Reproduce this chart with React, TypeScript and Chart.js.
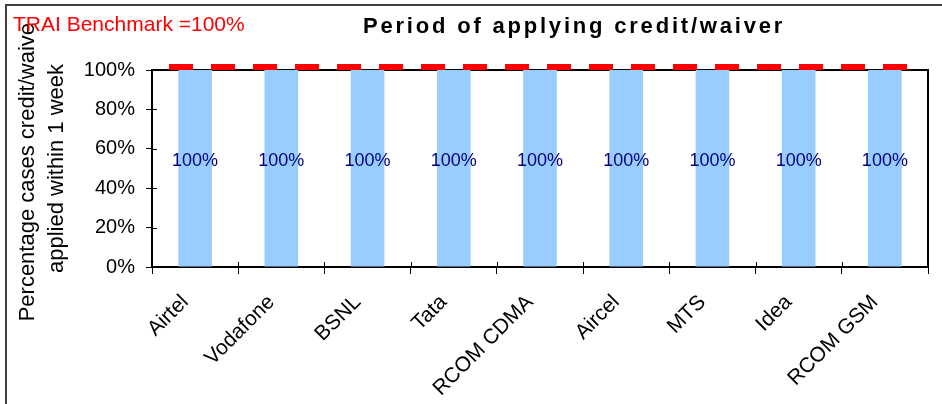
import React, { useEffect, useRef } from 'react';
import { Chart, registerables } from 'chart.js';

Chart.register(...registerables);

const categories = ['Airtel', 'Vodafone', 'BSNL', 'Tata', 'RCOM CDMA', 'Aircel', 'MTS', 'Idea', 'RCOM GSM'];
const percentValues = [100, 100, 100, 100, 100, 100, 100, 100, 100];
const benchmarkValues = [100, 100, 100, 100, 100, 100, 100, 100, 100];
const yTickValues = [0, 20, 40, 60, 80, 100];
const chartTitle = 'Period of applying credit/waiver';
const benchmarkCaption = 'TRAI Benchmark =100%';
const yAxisTitle = ['Percentage cases credit/waiver', 'applied within 1 week'];

const FONT = "'Liberation Sans', Arial, Helvetica, sans-serif";

const frameAndTicks = {
  id: 'frameAndTicks',
  beforeDatasetsDraw(chart: any) {
    const { ctx, chartArea: a, scales } = chart;
    ctx.save();
    ctx.strokeStyle = '#000';
    ctx.lineWidth = 2;
    ctx.beginPath();
    ctx.moveTo(a.left, a.top);
    ctx.lineTo(a.right, a.top);
    ctx.lineTo(a.right, a.bottom);
    ctx.stroke();
    ctx.lineWidth = 1;
    ctx.beginPath();
    const ys = scales.y;
    ys.ticks.forEach((_t: any, i: number) => {
      const py = Math.round(ys.getPixelForTick(i)) + 0.5;
      ctx.moveTo(a.left, py);
      ctx.lineTo(a.left + 5, py);
    });
    const n = categories.length;
    for (let i = 0; i <= n; i++) {
      const px = Math.round(a.left + (i * a.width) / n) + 0.5;
      ctx.moveTo(px, a.bottom);
      ctx.lineTo(px, a.bottom - 5);
    }
    ctx.stroke();
    ctx.restore();
  },
};

const benchClip = {
  id: 'benchClip',
  beforeDatasetDraw(chart: any, args: any) {
    if (args.index !== 1) return;
    const { ctx, chartArea: a } = chart;
    ctx.save();
    ctx.beginPath();
    ctx.rect(a.left, 0, a.width - 20, a.top);
    ctx.clip();
  },
  afterDatasetDraw(chart: any, args: any) {
    if (args.index !== 1) return;
    chart.ctx.restore();
  },
};

const barLabels = {
  id: 'barLabels',
  afterDatasetsDraw(chart: any) {
    const { ctx } = chart;
    const meta = chart.getDatasetMeta(0);
    ctx.save();
    ctx.font = `18px ${FONT}`;
    ctx.fillStyle = '#000080';
    ctx.textAlign = 'center';
    ctx.textBaseline = 'bottom';
    meta.data.forEach((bar: any, i: number) => {
      const { x, y, base } = bar.getProps(['x', 'y', 'base'], true);
      ctx.fillText(`${percentValues[i]}%`, x, (y + base) / 2 + 1.5);
    });
    ctx.restore();
  },
};

const captions = {
  id: 'captions',
  afterDraw(chart: any) {
    const { ctx } = chart;
    ctx.save();
    ctx.textAlign = 'left';
    ctx.textBaseline = 'alphabetic';
    ctx.font = `bold 22px ${FONT}`;
    ctx.fillStyle = '#000';
    (ctx as any).letterSpacing = '2.8px';
    ctx.fillText(chartTitle, 363, 33);
    (ctx as any).letterSpacing = '0px';
    ctx.font = `21px ${FONT}`;
    const w = ctx.measureText(benchmarkCaption).width;
    ctx.fillStyle = '#fff';
    ctx.fillRect(11, 8, w + 4, 16);
    ctx.fillStyle = '#FF0000';
    ctx.fillText(benchmarkCaption, 13, 31);
    ctx.restore();
  },
};

export default function App() {
  const canvasRef = useRef<HTMLCanvasElement | null>(null);

  useEffect(() => {
    if (!canvasRef.current) return;
    Chart.defaults.font.family = FONT;
    Chart.defaults.color = '#000';
    const chart = new Chart(canvasRef.current, {
      type: 'bar',
      data: {
        labels: categories,
        datasets: [
          {
            type: 'bar',
            label: 'Percentage',
            data: percentValues,
            backgroundColor: '#99CCFF',
            borderWidth: 0,
            grouped: false,
            categoryPercentage: 1,
            barPercentage: 0.39,
            xAxisID: 'x',
            yAxisID: 'y',
            order: 1,
          } as any,
          {
            type: 'line',
            label: 'TRAI Benchmark',
            data: benchmarkValues,
            borderColor: '#FF0000',
            backgroundColor: '#FF0000',
            borderWidth: 12,
            borderDash: [24, 18],
            borderDashOffset: 25,
            pointRadius: 0,
            fill: false,
            tension: 0,
            clip: false,
            xAxisID: 'x2',
            yAxisID: 'y',
            order: 0,
          } as any,
        ],
      },
      options: {
        responsive: false,
        animation: false,
        maintainAspectRatio: false,
        layout: { padding: { top: 70, right: 14, left: 0, bottom: 0 } },
        plugins: {
          legend: { display: false },
          tooltip: { enabled: false },
          title: { display: false },
        },
        scales: {
          x: {
            type: 'category',
            offset: true,
            grid: { display: true, offset: true, drawOnChartArea: false, drawTicks: true, tickLength: 7, color: '#000', lineWidth: 1 },
            border: { display: true, color: '#000', width: 2 },
            ticks: {
              autoSkip: false,
              minRotation: 45,
              maxRotation: 45,
              padding: 16,
              labelOffset: -10,
              color: '#000',
              font: { size: 21, family: FONT },
            },
            afterFit: (scale: any) => {
              scale.height = 137;
            },
          },
          x2: {
            type: 'category',
            labels: categories,
            offset: false,
            display: false,
            grid: { offset: false },
          },
          y: {
            type: 'linear',
            min: 0,
            max: 100,
            grid: { display: true, drawOnChartArea: false, drawTicks: true, tickLength: 6, color: '#000', lineWidth: 1 },
            border: { display: true, color: '#000', width: 2 },
            afterBuildTicks: (scale: any) => {
              scale.ticks = yTickValues.map((v) => ({ value: v }));
            },
            ticks: {
              padding: 11,
              color: '#000',
              font: { size: 20, family: FONT },
              callback: (v: any) => `${v}%`,
            },
            title: {
              display: true,
              text: yAxisTitle,
              color: '#000',
              font: { size: 22, family: FONT, lineHeight: 1.34 },
              padding: { top: 13, bottom: 0 },
            },
            afterFit: (scale: any) => {
              scale.width = 152;
            },
          },
        },
      },
      plugins: [frameAndTicks, benchClip, barLabels, captions],
    });
    return () => chart.destroy();
  }, []);

  return (
    <div style={{ position: 'absolute', left: 0, top: 0, width: 942, height: 404, overflow: 'hidden', background: '#fff' }}>
      <div
        style={{
          position: 'absolute',
          left: 5,
          top: 4,
          width: 1200,
          height: 800,
          borderLeft: '2px solid #404040',
          borderTop: '2px solid #404040',
          boxSizing: 'border-box',
        }}
      />
      <canvas ref={canvasRef} width={942} height={404} style={{ position: 'absolute', left: 0, top: 0, display: 'block' }} />
    </div>
  );
}
